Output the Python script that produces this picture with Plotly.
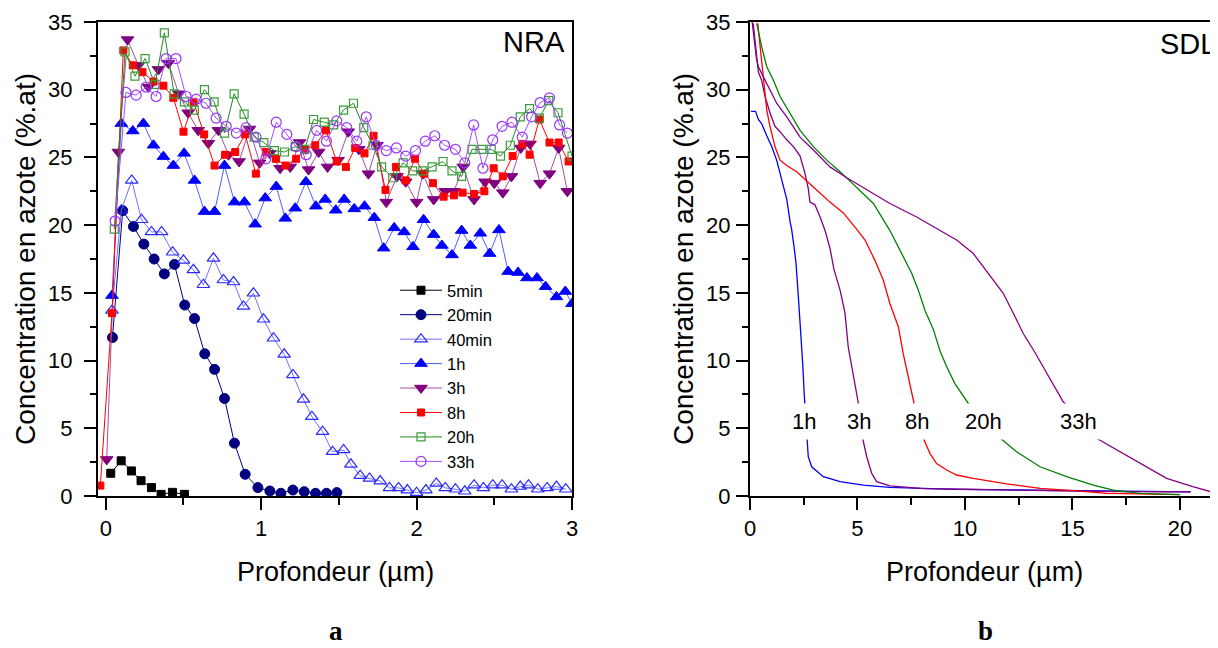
import plotly.graph_objects as go

# The page puts the figure 8 px in from the top-left corner, so the figure is
# 8 px smaller than the window and every layout pixel is given minus 8.
OFF = 8
W, H = 1218 - OFF, 648 - OFF

# ---------------- NRA (panel a) ----------------
nra_5min_x = [0.032, 0.099, 0.165, 0.227, 0.294, 0.356, 0.43, 0.506]
nra_5min_y = [1.68, 2.6, 1.85, 1.13, 0.62, 0.12, 0.27, 0.12]

nra_20min_x = [0.043, 0.109, 0.178, 0.245, 0.311, 0.377, 0.442, 0.508, 0.571, 0.637, 0.70,
               0.764, 0.828, 0.897, 0.979, 1.056, 1.127, 1.204, 1.277, 1.35, 1.42, 1.487]
nra_20min_y = [11.7, 21.07, 19.9, 18.6, 17.5, 16.4, 17.1, 14.1, 13.1, 10.5, 9.35,
               7.2, 3.9, 1.6, 0.62, 0.37, 0.2, 0.44, 0.32, 0.2, 0.2, 0.25]

nra_40min_x = [0.04, 0.10, 0.167, 0.23, 0.294, 0.359, 0.43, 0.5, 0.564, 0.628,
               0.693, 0.757, 0.822, 0.886, 0.95, 1.015, 1.079, 1.148, 1.204, 1.272,
               1.326, 1.395, 1.459, 1.53, 1.577, 1.637, 1.697, 1.766, 1.826, 1.884,
               1.94, 2.0, 2.06, 2.127, 2.185, 2.25, 2.31, 2.37, 2.43, 2.49,
               2.55, 2.61, 2.667, 2.72, 2.78, 2.84, 2.9, 2.96]
nra_40min_y = [13.7, 21.1, 23.3, 20.4, 19.5, 19.5, 18.0, 17.4, 16.7, 15.6,
               17.55, 15.95, 15.8, 14.0, 14.97, 13.05, 11.65, 10.46, 8.94, 7.14,
               5.86, 4.75, 3.27, 3.4, 2.34, 1.5, 1.3, 1.1, 0.6, 0.6,
               0.44, 0.25, 0.44, 0.93, 0.6, 0.5, 0.35, 0.8, 0.6, 0.8,
               0.8, 0.5, 0.7, 0.8, 0.5, 0.6, 0.7, 0.5]

nra_1h_x = [0.04, 0.10, 0.174, 0.242, 0.307, 0.371, 0.435, 0.504, 0.571, 0.635,
            0.70, 0.764, 0.828, 0.892, 0.961, 1.026, 1.097, 1.155, 1.219, 1.288,
            1.352, 1.412, 1.48, 1.534, 1.599, 1.665, 1.728, 1.788, 1.856, 1.92,
            1.977, 2.045, 2.11, 2.163, 2.228, 2.29, 2.346, 2.41, 2.47, 2.53,
            2.589, 2.653, 2.71, 2.775, 2.83, 2.9, 2.957, 3.0]
nra_1h_y = [14.8, 27.5, 26.95, 27.5, 25.9, 25.06, 24.4, 25.3, 23.3, 21.0,
            21.0, 24.4, 21.7, 21.7, 20.07, 22.0, 22.85, 20.5, 21.25, 23.2,
            21.4, 21.9, 21.1, 21.9, 21.2, 21.4, 20.55, 18.3, 19.8, 19.5,
            18.4, 20.4, 19.3, 18.5, 17.8, 19.6, 18.5, 19.4, 17.9, 19.65,
            16.57, 16.5, 16.1, 16.1, 15.46, 14.7, 15.1, 14.2]

nra_3h_x = [0.006, 0.081, 0.14, 0.21, 0.275, 0.339, 0.403, 0.47, 0.53, 0.595,
            0.66, 0.725, 0.79, 0.858, 0.925, 0.99, 1.056, 1.122, 1.187, 1.247,
            1.305, 1.37, 1.427, 1.495, 1.56, 1.628, 1.69, 1.745, 1.805, 1.874,
            1.93, 2.0, 2.04, 2.11, 2.185, 2.24, 2.3, 2.37, 2.44, 2.5,
            2.555, 2.61, 2.67, 2.73, 2.795, 2.855, 2.914, 2.97]
nra_3h_y = [2.7, 25.4, 33.7, 31.8, 30.2, 31.5, 31.96, 29.7, 28.3, 27.0,
            26.05, 27.0, 25.2, 24.7, 27.1, 24.6, 25.3, 24.2, 24.3, 26.1,
            24.1, 25.4, 24.3, 24.8, 26.9, 25.6, 23.8, 25.9, 21.7, 23.6,
            23.2, 21.7, 23.8, 21.9, 22.5, 22.5, 24.3, 21.9, 23.2, 23.1,
            22.4, 23.6, 25.7, 26.0, 23.1, 23.8, 25.7, 22.5]

nra_8h_x = [-0.035, 0.04, 0.113, 0.174, 0.236, 0.307, 0.371, 0.435, 0.5, 0.565,
            0.633, 0.7, 0.768, 0.833, 0.897, 0.966, 1.03, 1.095, 1.157, 1.225,
            1.283, 1.348, 1.417, 1.486, 1.545, 1.605, 1.665, 1.723, 1.8, 1.867,
            1.93, 1.99, 2.05, 2.105, 2.174, 2.24, 2.296, 2.37, 2.436, 2.496,
            2.555, 2.618, 2.68, 2.727, 2.79, 2.855, 2.914, 2.978]
nra_8h_y = [0.77, 13.5, 32.9, 31.8, 31.3, 30.6, 30.3, 29.4, 26.9, 29.1,
            26.7, 24.4, 25.2, 25.4, 26.7, 23.8, 25.4, 24.9, 24.4, 24.9,
            25.6, 25.9, 27.0, 24.7, 24.3, 25.7, 25.3, 26.6, 22.6, 24.3,
            23.3, 24.9, 23.8, 23.1, 22.1, 22.2, 22.4, 22.3, 22.5, 24.2,
            23.6, 25.1, 26.0, 25.2, 27.8, 26.1, 26.1, 24.7]

nra_20h_x = [0.055, 0.124, 0.188, 0.253, 0.317, 0.377, 0.44, 0.506, 0.57, 0.635,
             0.697, 0.764, 0.826, 0.89, 0.955, 1.017, 1.085, 1.15, 1.219, 1.28,
             1.337, 1.406, 1.466, 1.53, 1.594, 1.66, 1.72, 1.775, 1.846, 1.913,
             1.975, 2.04, 2.1, 2.17, 2.228, 2.29, 2.357, 2.42, 2.48, 2.54,
             2.603, 2.667, 2.727, 2.79, 2.85, 2.91, 3.0]
nra_20h_y = [19.7, 32.8, 31.0, 32.3, 30.4, 34.2, 29.7, 29.1, 28.5, 30.0,
             29.1, 26.8, 29.7, 28.2, 26.5, 26.1, 25.5, 25.4, 25.8, 25.6,
             27.8, 27.6, 27.4, 28.5, 29.0, 27.2, 25.9, 24.3, 23.5, 24.6,
             24.0, 24.0, 24.3, 24.7, 24.0, 23.6, 25.6, 25.6, 25.6, 25.1,
             25.9, 28.0, 28.6, 27.9, 29.2, 28.3, 25.1]

nra_33h_x = [0.06, 0.13, 0.195, 0.26, 0.324, 0.388, 0.452, 0.517, 0.582, 0.645,
             0.71, 0.775, 0.84, 0.903, 0.967, 1.03, 1.097, 1.165, 1.225, 1.29,
             1.357, 1.42, 1.486, 1.55, 1.615, 1.676, 1.74, 1.805, 1.87, 1.93,
             1.993, 2.056, 2.117, 2.18, 2.25, 2.31, 2.367, 2.427, 2.49, 2.55,
             2.614, 2.68, 2.74, 2.795, 2.855, 2.92, 2.97]
nra_33h_y = [20.3, 29.8, 29.6, 30.2, 29.5, 32.3, 32.3, 29.5, 29.3, 29.0,
             27.9, 27.3, 26.8, 27.2, 26.5, 24.9, 27.6, 26.7, 25.8, 25.2,
             27.0, 26.2, 27.7, 27.2, 26.2, 28.0, 25.9, 25.5, 25.7, 25.1,
             25.5, 26.2, 26.6, 25.9, 25.6, 24.6, 27.4, 24.2, 26.3, 27.3,
             27.6, 26.5, 28.0, 29.05, 29.4, 27.4, 26.8]

# ---------------- SDL (panel b) ----------------
sdl_1h_x = [0.05, 0.26, 0.39, 0.54, 0.78, 1.01, 1.24, 1.47, 1.71, 1.86, 1.94, 2.05, 2.14,
            2.25, 2.36, 2.45, 2.53, 2.64, 2.71, 2.87, 3.41, 4.19, 5.27, 6.5, 8.06, 9.6,
            12.0, 14.0, 16.0, 18.1, 20.5]
sdl_1h_y = [28.4, 28.4, 27.8, 27.5, 26.6, 25.8, 24.8, 23.4, 21.9, 20.3, 19.65, 18.4, 17.2,
            14.7, 12.3, 9.8, 7.3, 4.26, 2.9, 2.16, 1.43, 1.06, 0.81, 0.64, 0.57, 0.49,
            0.45, 0.42, 0.38, 0.35, 0.3]

sdl_3h_x = [0.15, 0.23, 0.31, 0.39, 0.54, 0.70, 0.93, 1.16, 1.40, 1.71, 2.02, 2.33, 2.56,
            2.71, 2.79, 3.02, 3.26, 3.49, 3.72, 3.91, 4.19, 4.42, 4.57, 4.81, 5.04, 5.24,
            5.43, 5.66, 5.89, 6.51, 8.06, 10.0, 12.0, 15.0, 17.0, 20.5]
sdl_3h_y = [34.9, 33.7, 32.4, 31.3, 30.7, 29.5, 28.3, 27.3, 26.9, 26.3, 25.8, 25.1, 23.8,
            22.7, 21.7, 21.5, 20.6, 19.6, 18.3, 16.7, 15.2, 13.5, 11.0, 8.8, 6.85, 4.26,
            2.9, 1.68, 1.06, 0.74, 0.55, 0.5, 0.45, 0.4, 0.32, 0.3]

sdl_8h_x = [0.36, 0.47, 0.54, 0.65, 0.78, 0.93, 1.16, 1.40, 1.71, 2.17, 2.64, 3.10, 3.72,
            4.34, 4.96, 5.35, 5.81, 6.2, 6.51, 6.9, 7.13, 7.36, 7.63, 8.06, 8.37, 8.68,
            9.15, 9.61, 10.39, 11.94, 13.49, 15.04, 16.6, 18.1, 20.0]
sdl_8h_y = [34.9, 33.2, 31.7, 30.2, 28.5, 27.3, 25.8, 24.8, 24.4, 23.95, 23.3, 22.6, 21.7,
            20.9, 19.7, 18.9, 17.4, 15.95, 14.2, 12.5, 10.5, 8.8, 6.85, 4.26, 3.15, 2.4,
            1.92, 1.55, 1.3, 0.89, 0.57, 0.39, 0.2, 0.15, 0.1]

sdl_20h_x = [0.31, 0.54, 0.78, 1.09, 1.40, 1.86, 2.33, 2.95, 3.57, 4.19, 4.96, 5.74, 6.51,
             7.13, 7.52, 7.83, 8.14, 8.53, 8.84, 9.15, 9.53, 10.15, 11.55, 12.4, 13.49,
             14.73, 15.97, 16.9, 18.14, 20.0]
sdl_20h_y = [34.9, 33.2, 31.7, 30.7, 29.5, 28.3, 27.0, 25.8, 24.8, 23.95, 22.8, 21.6, 19.6,
             17.7, 16.45, 15.2, 13.7, 12.3, 10.7, 9.55, 8.3, 6.85, 4.4, 3.27, 2.16,
             1.43, 0.81, 0.44, 0.2, 0.1]

sdl_33h_x = [0.1, 0.2, 0.3, 0.39, 0.62, 0.93, 1.24, 1.71, 2.33, 2.95, 3.72, 4.5, 5.43, 6.51,
             7.75, 8.84, 9.61, 10.39, 10.85, 11.32, 11.78, 12.25, 12.71, 13.18, 13.64,
             14.11, 14.57, 16.12, 17.05, 18.14, 19.38, 20.6, 21.7]
sdl_33h_y = [35.0, 33.5, 32.3, 31.7, 31.0, 30.0, 29.0, 28.0, 26.5, 25.55, 24.3, 23.5, 22.6,
             21.6, 20.6, 19.6, 18.9, 17.9, 16.9, 15.95, 14.97, 13.5, 12.0, 10.8, 9.55,
             8.3, 6.96, 4.26, 3.4, 2.41, 1.3, 0.69, 0.2]

sdl_labels = ["1h", "3h", "8h", "20h", "33h"]
sdl_label_x = [2.51, 5.07, 7.77, 10.84, 15.26]
sdl_label_y = 5.47

FONT = "Arial, Liberation Sans, sans-serif"
SERIF = "Liberation Serif, Times New Roman, serif"

# reference-window pixel -> figure pixel
def fx(p):
    return p - OFF

def fy(p):
    return p - OFF

TOP, BOTTOM = fy(22), fy(496)          # plot area rows (figure pixels)
PLOT_H = BOTTOM - TOP

def px_x(p):                            # reference x pixel -> paper x
    return fx(p) / W

def px_y(p):                            # reference y pixel -> paper y
    return (BOTTOM - fy(p)) / PLOT_H

fig = go.Figure()

nra_series = [
    ("5min", nra_5min_x, nra_5min_y, "square", 8, "#000000", "#000000", "#000000", 1.0),
    ("20min", nra_20min_x, nra_20min_y, "circle", 10, "#000080", "#000080", "#000080", 1.0),
    ("40min", nra_40min_x, nra_40min_y, "triangle-up-open", 11, "#2a2aff", "#2a2aff", "#7070ff", 1.2),
    ("1h", nra_1h_x, nra_1h_y, "triangle-up", 11, "#0000ff", "#0000ff", "#5060ff", 1.0),
    ("3h", nra_3h_x, nra_3h_y, "triangle-down", 11, "#800080", "#800080", "#a050a0", 1.0),
    ("8h", nra_8h_x, nra_8h_y, "square", 7, "#ff0000", "#ff0000", "#ff0000", 1.0),
    ("20h", nra_20h_x, nra_20h_y, "square-open", 8, "#3c9c3c", "#3c9c3c", "#1e8c1e", 1.2),
    ("33h", nra_33h_x, nra_33h_y, "circle-open", 10, "#9933ff", "#9933ff", "#a64dff", 1.2),
]
for name, xs, ys, sym, size, mcol, mline, lcol, mlw in nra_series:
    fig.add_trace(go.Scatter(
        x=xs, y=ys, name=name, mode="lines+markers",
        line=dict(color=lcol, width=1),
        marker=dict(symbol=sym, size=size, color=mcol,
                    line=dict(color=mline, width=mlw)),
        xaxis="x", yaxis="y"))

sdl_series = [
    ("1h", sdl_1h_x, sdl_1h_y, "#0000ff"),
    ("3h", sdl_3h_x, sdl_3h_y, "#800080"),
    ("8h", sdl_8h_x, sdl_8h_y, "#ff0000"),
    ("20h", sdl_20h_x, sdl_20h_y, "#008000"),
    ("33h", sdl_33h_x, sdl_33h_y, "#880088"),
]
for name, xs, ys, col in sdl_series:
    fig.add_trace(go.Scatter(
        x=xs, y=ys, name="SDL " + name, mode="lines",
        line=dict(color=col, width=1.3),
        showlegend=False, xaxis="x2", yaxis="y2"))

axis_common = dict(
    showline=True, linecolor="black", linewidth=2,
    ticks="outside", ticklen=12, tickwidth=1.5, tickcolor="black",
    showgrid=False, zeroline=False,
    tickfont=dict(family=FONT, size=22, color="black"),
)

def minor(d, ln):
    return dict(dtick=d, tick0=0, ticklen=ln, tickwidth=1.5, ticks="outside", tickcolor="black")

annotations = []
for lab, lx in zip(sdl_labels, sdl_label_x):
    annotations.append(dict(
        x=lx, y=sdl_label_y, xref="x2", yref="y2", text=lab, showarrow=False,
        font=dict(family=FONT, size=22, color="black"),
        bgcolor="white", borderpad=5))

ytitle_font = dict(family=FONT, size=28, color="black")
xtitle_font = dict(family=FONT, size=27, color="black")
annotations += [
    dict(x=px_x(25), y=0.5, xref="paper", yref="paper", text="Concentration en azote (%.at)",
         textangle=-90, showarrow=False, font=ytitle_font, xanchor="center", yanchor="middle"),
    dict(x=px_x(683), y=0.5, xref="paper", yref="paper", text="Concentration en azote (%.at)",
         textangle=-90, showarrow=False, font=ytitle_font, xanchor="center", yanchor="middle"),
    dict(x=px_x(335), y=px_y(572), xref="paper", yref="paper", text="Profondeur (µm)",
         showarrow=False, font=xtitle_font, xanchor="center", yanchor="middle"),
    dict(x=px_x(984), y=px_y(572), xref="paper", yref="paper", text="Profondeur (µm)",
         showarrow=False, font=xtitle_font, xanchor="center", yanchor="middle"),
    dict(x=px_x(336), y=px_y(631), xref="paper", yref="paper", text="<b>a</b>",
         showarrow=False, font=dict(family=SERIF, size=27, color="black"),
         xanchor="center", yanchor="middle", borderpad=0),
    dict(x=px_x(985), y=px_y(631), xref="paper", yref="paper", text="<b>b</b>",
         showarrow=False, font=dict(family=SERIF, size=27, color="black"),
         xanchor="center", yanchor="middle", borderpad=0),
    dict(x=px_x(567), y=px_y(42.5), xref="paper", yref="paper", text="NRA",
         showarrow=False, font=dict(family=FONT, size=29, color="black"),
         xanchor="right", yanchor="middle"),
    dict(x=1.0, y=px_y(44), xref="paper", yref="paper", text="SDL",
         showarrow=False, font=dict(family=FONT, size=29, color="black"),
         xanchor="right", yanchor="middle"),
]

fig.update_layout(
    width=W, height=H,
    margin=dict(l=0, r=0, t=TOP, b=H - BOTTOM, autoexpand=False),
    paper_bgcolor="white", plot_bgcolor="white",
    showlegend=True,
    legend=dict(x=fx(395) / W, y=px_y(273), xanchor="left", yanchor="top",
                font=dict(family=FONT, size=16.5, color="black"),
                bgcolor="rgba(0,0,0,0)", borderwidth=0, itemwidth=42),
    xaxis=dict(domain=[fx(98) / W, fx(572) / W], range=[-0.05, 3.0], dtick=1, tick0=0,
               mirror=True, anchor="y", ticklabelstandoff=0,
               minor=minor(0.5, 7), **axis_common),
    yaxis=dict(domain=[0, 1], range=[0, 35], dtick=5, tick0=0, mirror=True, anchor="x",
               ticklabelstandoff=7, minor=minor(2.5, 6), **axis_common),
    xaxis2=dict(domain=[fx(750) / W, 1.0], range=[0, 21.77], dtick=5, tick0=0,
                mirror=True, anchor="y2", ticklabelstandoff=0,
                minor=minor(2.5, 7), **axis_common),
    yaxis2=dict(domain=[0, 1], range=[0, 35], dtick=5, tick0=0, mirror=False, anchor="x2",
                ticklabelstandoff=1, minor=minor(2.5, 6), **axis_common),
    annotations=annotations,
)

fig.write_html("out.html")
